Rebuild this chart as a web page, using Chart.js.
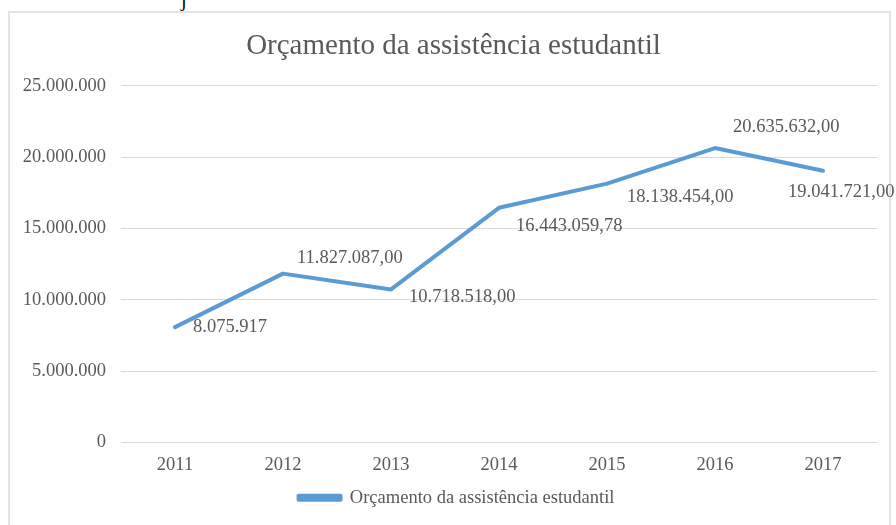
<!DOCTYPE html>
<html>
<head>
<meta charset="utf-8">
<script src="https://cdn.jsdelivr.net/npm/chart.js@4/dist/chart.umd.min.js"></script>
<style>
  html, body { margin: 0; padding: 0; background: #ffffff; overflow: hidden; }
  body { width: 896px; height: 525px; position: relative; }
  #frame { position: absolute; left: 8px; top: 11px; width: 883px; height: 540px; border: 2px solid #E3E3E3; box-sizing: border-box; }
  #above { position: absolute; left: 181px; top: -12px; font: 20px "Liberation Serif", serif; color: #000; }
  canvas { position: absolute; left: 0; top: 0; }
</style>
</head>
<body>
<div id="above">j</div>
<div id="frame"></div>
<canvas id="c" width="896" height="525"></canvas>
<script>
// ---- data ----
const categories = ['2011', '2012', '2013', '2014', '2015', '2016', '2017'];
const seriesName = 'Orçamento da assistência estudantil';
const budget = [8075917, 11827087.00, 10718518.00, 16443059.78, 18138454.00, 20635632.00, 19041721.00];
const valueLabels = ['8.075.917', '11.827.087,00', '10.718.518,00', '16.443.059,78', '18.138.454,00', '20.635.632,00', '19.041.721,00'];
const yTicks = [0, 5000000, 10000000, 15000000, 20000000, 25000000];

// ---- label placement (style, relative to each point) ----
const labelDx = [18, 14, 18, 17, 20, 18, -35];
const labelDy = [0, -16, 8, 18, 13, -21, 21];

const TEXT = '#595959';
const FONT = '"Liberation Serif", "Times New Roman", serif';

function fmtThousands(v) {
  return String(Math.round(v)).replace(/\B(?=(\d{3})+(?!\d))/g, '.');
}

const valueLabelPlugin = {
  id: 'valueLabels',
  afterLayout(chart) {
    // shift the legend and title blocks slightly right, as in the reference
    if (chart.legend) { chart.legend.left += 18; chart.legend.right += 18; }
    if (chart.titleBlock) { chart.titleBlock.left += 15; chart.titleBlock.right += 15; }
  },
  afterDatasetsDraw(chart) {
    const ctx = chart.ctx;
    const meta = chart.getDatasetMeta(0);
    ctx.save();
    ctx.font = '18.5px ' + FONT;
    ctx.fillStyle = TEXT;
    ctx.textAlign = 'left';
    ctx.textBaseline = 'middle';
    meta.data.forEach((pt, i) => {
      ctx.fillText(valueLabels[i], pt.x + labelDx[i], pt.y + labelDy[i]);
    });
    ctx.restore();
  }
};

new Chart(document.getElementById('c'), {
  type: 'line',
  data: {
    labels: categories,
    datasets: [{
      label: seriesName,
      data: budget,
      borderColor: '#5B9BD5',
      backgroundColor: '#5B9BD5',
      borderWidth: 4,
      borderCapStyle: 'round',
      borderJoinStyle: 'round',
      pointRadius: 0,
      pointHoverRadius: 0,
      tension: 0,
      fill: false
    }]
  },
  options: {
    responsive: false,
    animation: false,
    events: [],
    layout: { padding: { left: 0, right: 19, top: 0, bottom: 8 } },
    plugins: {
      title: {
        display: true,
        text: seriesName,
        color: TEXT,
        font: { family: FONT, size: 29, weight: 'normal' },
        padding: { top: 29, bottom: 22 }
      },
      legend: {
        display: true,
        position: 'bottom',
        labels: {
          color: TEXT,
          font: { family: FONT, size: 18.5 },
          boxWidth: 42,
          boxHeight: 4,
          padding: 0
        }
      },
      tooltip: { enabled: false }
    },
    scales: {
      x: {
        offset: true,
        grid: { display: false, drawTicks: false },
        border: { display: false },
        ticks: { color: TEXT, font: { family: FONT, size: 18.5 }, padding: 12, maxRotation: 0 }
      },
      y: {
        min: 0,
        max: 25000000,
        afterBuildTicks(scale) { scale.ticks = yTicks.map(v => ({ value: v })); },
        afterFit(scale) { scale.width = 121; },
        grid: { color: '#D9D9D9', lineWidth: 1, drawTicks: false },
        border: { display: false },
        ticks: {
          color: TEXT,
          font: { family: FONT, size: 18.5 },
          padding: 15,
          callback: (v) => fmtThousands(v)
        }
      }
    }
  },
  plugins: [valueLabelPlugin]
});
</script>
</body>
</html>
